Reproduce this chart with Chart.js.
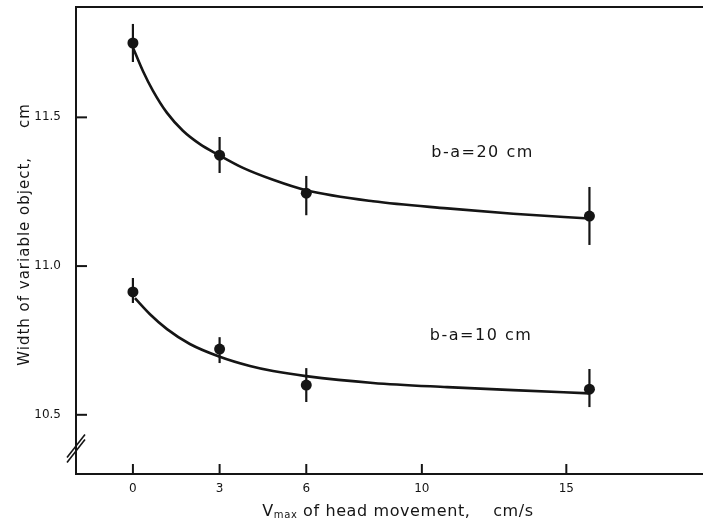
<!DOCTYPE html>
<html>
<head>
<meta charset="utf-8">
<script src="https://cdn.jsdelivr.net/npm/chart.js@4/dist/chart.umd.min.js"></script>
<style>
  html, body { margin: 0; padding: 0; background: #fff; }
  canvas { display: block; }
</style>
</head>
<body>
<canvas id="chart" width="703" height="524"></canvas>
<script>
const xTicks = [0, 3, 6, 10, 15];
const yTicks = [10.5, 11.0, 11.5];

// measured points, cm/s vs cm
const speeds = [0, 3, 6, 15.8];
const width20 = [11.75, 11.373, 11.245, 11.168];
const err20Low = [11.686, 11.313, 11.171, 11.071];
const err20High = [11.814, 11.434, 11.303, 11.266];
const width10 = [10.913, 10.721, 10.600, 10.586];
const err10Low = [10.876, 10.674, 10.543, 10.526];
const err10High = [10.96, 10.761, 10.657, 10.654];

// fitted curves
const curveX20 = [0, 0.35, 0.69, 1.18, 1.73, 2.32, 2.94, 3.81, 4.85, 5.99, 8.31, 10.88, 13.16, 15.8];
const curve20 = [11.735, 11.655, 11.59, 11.515, 11.455, 11.41, 11.375, 11.33, 11.29, 11.255, 11.218, 11.194, 11.176, 11.16];
const curveX10 = [0.07, 0.59, 1.18, 1.97, 2.98, 4.05, 4.85, 5.99, 8.31, 10.88, 13.16, 15.8];
const curve10 = [10.892, 10.838, 10.788, 10.738, 10.696, 10.664, 10.647, 10.63, 10.607, 10.593, 10.583, 10.572];

const ink = '#151515';
const font = '"DejaVu Sans", sans-serif';

const pts = (xs, ys) => xs.map((x, i) => ({ x: x, y: ys[i] }));
const noPad = s => { s.paddingTop = 0; s.paddingBottom = 0; s.paddingLeft = 0; s.paddingRight = 0; };

const decor = {
    id: 'decor',
    afterDatasetsDraw(chart) {
        const ctx = chart.ctx;
        const xs = chart.scales.x, ys = chart.scales.y;
        const area = chart.chartArea;
        ctx.save();
        ctx.strokeStyle = ink;
        ctx.fillStyle = ink;

        // error bars
        ctx.lineWidth = 2.2;
        [[err20Low, err20High], [err10Low, err10High]].forEach(([lo, hi]) => {
            speeds.forEach((s, i) => {
                const px = xs.getPixelForValue(s);
                ctx.beginPath();
                ctx.moveTo(px, ys.getPixelForValue(lo[i]));
                ctx.lineTo(px, ys.getPixelForValue(hi[i]));
                ctx.stroke();
            });
        });

        // frame: top line and x axis run to the page edge
        ctx.lineWidth = 2;
        ctx.beginPath();
        ctx.moveTo(area.left, area.top);
        ctx.lineTo(chart.width, area.top);
        ctx.moveTo(area.left - 1, area.bottom);
        ctx.lineTo(chart.width, area.bottom);
        ctx.stroke();

        // inward ticks
        yTicks.forEach(v => {
            const py = ys.getPixelForValue(v);
            ctx.beginPath();
            ctx.moveTo(area.left, py);
            ctx.lineTo(area.left + 11, py);
            ctx.stroke();
        });
        xTicks.forEach(v => {
            const px = xs.getPixelForValue(v);
            ctx.beginPath();
            ctx.moveTo(px, area.bottom);
            ctx.lineTo(px, area.bottom - 10);
            ctx.stroke();
        });

        // axis break
        const by = ys.getPixelForValue(10.4);
        ctx.lineWidth = 1.6;
        [0, 5].forEach(d => {
            ctx.beginPath();
            ctx.moveTo(area.left - 9, by + 13 + d);
            ctx.lineTo(area.left + 9, by - 10 + d);
            ctx.stroke();
        });

        // curve labels
        ctx.font = '16px ' + font;
        ctx.letterSpacing = '1.5px';
        ctx.textAlign = 'center';
        ctx.textBaseline = 'middle';
        ctx.fillText('b-a=20 cm', xs.getPixelForValue(12.1), ys.getPixelForValue(11.38));
        ctx.fillText('b-a=10 cm', xs.getPixelForValue(12.05), ys.getPixelForValue(10.765));

        // y title
        ctx.letterSpacing = '1px';
        ctx.save();
        ctx.translate(25, (area.top + area.bottom) / 2 - 6);
        ctx.rotate(-Math.PI / 2);
        ctx.font = '15px ' + font;
        ctx.fillText('Width of variable object,\u00a0\u00a0\u00a0\u00a0 cm', 0, 0);
        ctx.restore();

        // x title with subscript
        ctx.letterSpacing = '0.6px';
        ctx.textAlign = 'left';
        ctx.textBaseline = 'alphabetic';
        const rest = ' of head movement,\u00a0\u00a0\u00a0 cm/s';
        ctx.font = '16px ' + font;
        const wV = ctx.measureText('V').width;
        const wRest = ctx.measureText(rest).width;
        ctx.font = '10px ' + font;
        const wSub = ctx.measureText('max').width;
        let x0 = 398 - (wV + wSub + wRest) / 2;
        const base = 516;
        ctx.font = '16px ' + font;
        ctx.fillText('V', x0, base);
        ctx.font = '10px ' + font;
        ctx.fillText('max', x0 + wV, base + 2);
        ctx.font = '16px ' + font;
        ctx.fillText(rest, x0 + wV + wSub, base);
        ctx.restore();
    }
};

const curveStyle = {
    showLine: true,
    borderColor: ink,
    borderWidth: 2.6,
    pointRadius: 0,
    cubicInterpolationMode: 'monotone',
    fill: false
};
const pointStyle = {
    showLine: false,
    pointRadius: 5.5,
    pointBackgroundColor: ink,
    pointBorderColor: ink,
    pointBorderWidth: 0
};

new Chart(document.getElementById('chart').getContext('2d'), {
    type: 'scatter',
    data: {
        datasets: [
            Object.assign({ label: 'fit 20', data: pts(curveX20, curve20) }, curveStyle),
            Object.assign({ label: 'fit 10', data: pts(curveX10, curve10) }, curveStyle),
            Object.assign({ label: 'b-a=20 cm', data: pts(speeds, width20) }, pointStyle),
            Object.assign({ label: 'b-a=10 cm', data: pts(speeds, width10) }, pointStyle)
        ]
    },
    options: {
        responsive: false,
        animation: false,
        devicePixelRatio: 1,
        layout: { padding: { top: 7, left: 0, right: 0, bottom: 0 } },
        plugins: {
            legend: { display: false },
            tooltip: { enabled: false }
        },
        scales: {
            x: {
                type: 'linear',
                min: -1.97,
                max: 19.54,
                afterFit: s => { s.height = 50; noPad(s); },
                afterBuildTicks: s => { s.ticks = xTicks.map(v => ({ value: v })); },
                grid: { display: false },
                border: { display: false },
                ticks: {
                    color: ink,
                    padding: 0,
                    font: { family: font, size: 12 },
                    callback: v => String(v)
                }
            },
            y: {
                type: 'linear',
                min: 10.301,
                max: 11.871,
                afterFit: s => { s.width = 76; noPad(s); },
                afterBuildTicks: s => { s.ticks = yTicks.map(v => ({ value: v })); },
                grid: { display: false },
                border: { display: true, color: ink, width: 2 },
                ticks: {
                    color: ink,
                    padding: 7,
                    font: { family: font, size: 12 },
                    callback: v => v.toFixed(1)
                }
            }
        }
    },
    plugins: [decor]
});
</script>
</body>
</html>
